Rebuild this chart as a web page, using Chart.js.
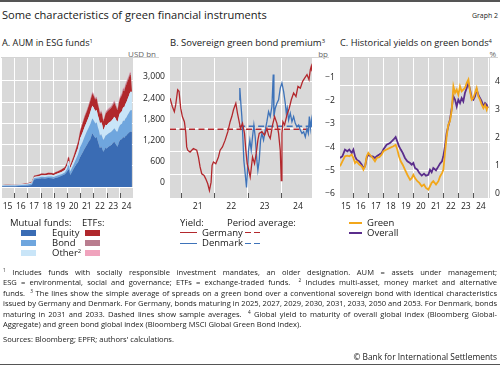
<!DOCTYPE html>
<html><head><meta charset="utf-8">
<script src="https://cdn.jsdelivr.net/npm/chart.js@4.4.1/dist/chart.umd.min.js"></script>
<style>
html,body{margin:0;padding:0;background:#fff}
body{width:500px;height:366px;position:relative;overflow:hidden;font-family:'Open Sans',sans-serif;color:#1a1a1a}
.t{position:absolute;white-space:nowrap;line-height:1.2;transform:translateY(-50%)}
sup{font-size:62%;vertical-align:0;position:relative;top:-0.55em;line-height:0}
.rule{position:absolute;left:0;width:500px;height:1.5px;background:#555}
.thin{position:absolute;height:1px;background:#d4d4d4}
.sw{position:absolute;height:6px;width:15px}
.ln{position:absolute;height:0}
.cv{position:absolute}
.fn{position:absolute;left:3px;width:494px;white-space:nowrap;line-height:1.2;transform:translateY(-50%);font-size:8px}
.lg{font-size:9.5px}
</style></head>
<body>
<div class="rule" style="top:0"></div>
<div class="t" id="title" style="left:2px;top:15px;font-size:12px">Some characteristics of green financial instruments</div>
<div class="t" id="graphno" style="right:2px;top:16px;font-size:9.5px">Graph 2</div>

<div class="t" id="ta" style="left:2px;top:43px;font-size:10px">A. AUM in ESG funds<sup>1</sup></div>
<div class="t" id="tb" style="left:170px;top:43px;font-size:10px">B. Sovereign green bond premium<sup>3</sup></div>
<div class="t" id="tc" style="left:340px;top:43px;font-size:10px">C. Historical yields on green bonds<sup>4</sup></div>

<div class="t" style="right:344px;top:54px;font-size:8px;color:#666">USD bn</div>
<div class="t" style="right:172px;top:54px;font-size:8px;color:#666">bp</div>
<div class="t" style="right:4px;top:54px;font-size:8px;color:#666">%</div>
<div class="thin" style="left:1px;top:57px;width:158px"></div>
<div class="thin" style="left:170px;top:57px;width:159px"></div>
<div class="thin" style="left:340px;top:57px;width:158px"></div>

<canvas class="cv" id="cA" width="165" height="162" style="left:0;top:58px"></canvas>
<canvas class="cv" id="cB" width="170" height="162" style="left:165px;top:58px"></canvas>
<canvas class="cv" id="cC" width="165" height="162" style="left:335px;top:58px"></canvas>

<!-- Legend A -->
<div class="t lg" style="left:10px;top:223px">Mutual funds:</div>
<div class="t lg" style="left:82px;top:223px">ETFs:</div>
<div class="sw" style="left:21px;top:230px;background:#3a6cb4"></div>
<div class="sw" style="left:21px;top:240px;background:#6fa6de"></div>
<div class="sw" style="left:21px;top:250px;background:#c9e5f8"></div>
<div class="sw" style="left:85px;top:230px;background:#b0282c"></div>
<div class="sw" style="left:85px;top:240px;background:#b97d8f"></div>
<div class="sw" style="left:85px;top:250px;background:#f0a3bd"></div>
<div class="t lg" style="left:52px;top:233px">Equity</div>
<div class="t lg" style="left:52px;top:243px">Bond</div>
<div class="t lg" style="left:52px;top:253px">Other<sup>2</sup></div>

<!-- Legend B -->
<div class="t lg" style="left:180px;top:223px">Yield:</div>
<div class="t lg" style="left:227px;top:223px">Period average:</div>
<div class="ln" style="left:180px;top:232px;width:17px;border-top:1.5px solid #b3282d"></div>
<div class="ln" style="left:180px;top:243px;width:17px;border-top:1.5px solid #3e73b9"></div>
<div class="t lg" style="left:202px;top:233px">Germany</div>
<div class="t lg" style="left:202px;top:243px">Denmark</div>
<div class="ln" style="left:245px;top:232px;width:6px;border-top:1.5px solid #b3282d"></div>
<div class="ln" style="left:254px;top:232px;width:6px;border-top:1.5px solid #b3282d"></div>
<div class="ln" style="left:245px;top:243px;width:6px;border-top:1.5px solid #3e73b9"></div>
<div class="ln" style="left:254px;top:243px;width:6px;border-top:1.5px solid #3e73b9"></div>

<!-- Legend C -->
<div class="ln" style="left:349px;top:222px;width:13px;border-top:2px solid #f2a71b"></div>
<div class="ln" style="left:349px;top:232px;width:13px;border-top:2px solid #5a2d8c"></div>
<div class="t lg" style="left:367px;top:223px">Green</div>
<div class="t lg" style="left:367px;top:233px">Overall</div>

<!-- Footnotes -->
<div class="fn" style="top:272.5px"><span><sup>1</sup> Includes funds with socially responsible investment mandates, an older designation. AUM = assets under management;</span></div>
<div class="fn" style="top:283px"><span>ESG = environmental, social and governance; ETFs = exchange-traded funds.&nbsp; <sup>2</sup> Includes multi-asset, money market and alternative</span></div>
<div class="fn" style="top:293.5px"><span>funds.&nbsp; <sup>3</sup> The lines show the simple average of spreads on a green bond over a conventional sovereign bond with identical characteristics</span></div>
<div class="fn" style="top:304px"><span>issued by Germany and Denmark. For Germany, bonds maturing in 2025, 2027, 2029, 2030, 2031, 2033, 2050 and 2053. For Denmark, bonds</span></div>
<div class="fn" style="top:314.5px"><span>maturing in 2031 and 2033. Dashed lines show sample averages.&nbsp; <sup>4</sup> Global yield to maturity of overall global index (Bloomberg Global-</span></div>
<div class="fn" style="top:325px"><span>Aggregate) and green bond global index (Bloomberg MSCI Global Green Bond Index).</span></div>
<div class="t" id="src" style="left:3px;top:340px;font-size:8px">Sources: Bloomberg; EPFR; authors' calculations.</div>
<div class="t" id="copy" style="right:3px;top:357px;font-size:8.5px">© Bank for International Settlements</div>
<div class="rule" style="top:363.5px"></div>

<script>
// ---------------- Panel A: AUM in ESG funds (USD bn) ----------------
const datesA = ['2015-01','2015-04','2015-07','2015-10','2016-01','2016-04','2016-07','2016-10','2017-01','2017-04',
'2017-06','2017-07','2017-10','2018-01','2018-04','2018-07','2018-10','2018-12','2019-01','2019-04',
'2019-07','2019-10','2019-12','2020-01','2020-02','2020-03','2020-04','2020-06','2020-08','2020-10',
'2020-12','2021-02','2021-04','2021-06','2021-08','2021-09','2021-11','2021-12','2022-01','2022-02',
'2022-03','2022-04','2022-05','2022-06','2022-07','2022-08','2022-09','2022-10','2022-11','2022-12',
'2023-02','2023-04','2023-06','2023-07','2023-08','2023-09','2023-10','2023-11','2023-12','2024-02',
'2024-03','2024-04','2024-05','2024-06','2024-07','2024-08','2024-09','2024-10','2024-11'];
const mfEquity = [20,22,22,23,24,27,30,35,45,60, 215,222,234,250,243,255,248,236,255,278,
320,360,430,500,470,340,400,520,620,700, 860,960,1080,1190,1300,1340,1520,1480,1420,1380,
1420,1300,1200,1100,1150,1080,1000,1050,1120,1090, 1150,1180,1250,1280,1230,1180,1140,1250,1330,1360,
1420,1390,1440,1460,1500,1530,1560,1570,1560];
const mfBond = [20,20,21,22,23,25,28,29,35,40, 37,36,38,42,42,45,47,46,45,52,
40,50,80,120,120,100,110,120,160,220, 280,300,340,380,400,430,420,420,420,420,
410,400,400,350,350,340,330,330,330,380, 370,380,370,380,390,390,430,430,420,440,
460,470,490,510,530,550,580,610,610];
const mfOther = [15,16,17,17,17,18,18,20,20,25, 30,32,33,43,45,50,50,48,55,60,
65,70,90,120,130,90,100,120,150,180, 240,270,280,280,300,330,360,360,350,350,
350,330,330,340,340,340,280,300,310,280, 300,300,320,330,330,310,280,300,330,350,
380,390,410,430,450,480,510,520,520];
const etfEquity = [4,5,5,7,9,10,12,13,17,22, 37,39,43,47,47,51,51,51,56,60,
68,77,94,111,102,76,94,111,136,170, 204,255,281,289,323,323,340,340,332,323,
332,315,298,272,289,281,247,264,306,366, 357,366,391,400,374,357,323,383,408,451,
476,459,493,502,510,502,510,476,51];
const etfBond = [1,1,1,1,1,1,1,2,2,2, 4,4,5,5,5,6,6,6,6,7,
8,9,11,13,12,9,11,13,16,20, 24,30,33,34,38,38,40,40,39,38,
39,37,35,32,34,33,29,31,36,43, 42,43,46,47,44,42,38,45,48,53,
56,54,58,59,60,59,60,56,6];
const etfOther = [0,0,0,0,1,1,1,1,1,1, 2,2,2,3,3,3,3,3,3,3,
4,4,5,6,6,5,5,6,8,10, 12,15,16,17,19,19,20,20,19,19,
19,18,17,16,17,16,14,15,18,21, 21,21,23,23,22,21,19,22,24,26,
28,27,29,29,30,29,30,28,3];
const ticksA = [0,600,1200,1800,2400,3000];
const yearTicksA = [2015,2016,2017,2018,2019,2020,2021,2022,2023,2024,2025];
const yearLabelsA = [2015,2016,2017,2018,2019,2020,2021,2022,2023,2024];
const tickMarksA = [2016,2017,2018,2019,2020,2021,2022,2023,2024];

// ---------------- Panel B: sovereign green bond premium (bp) ----------------
const datesGermany = [2020.67,2020.74,2020.80,2020.84,2020.90,2020.94,2020.99,
2021.04,2021.10,2021.14,2021.17,2021.20,2021.27,2021.37,2021.47,2021.52,2021.57,2021.62,2021.69,2021.74,2021.80,2021.85,2021.90,2021.93,2021.97,
2022.04,2022.12,2022.17,2022.24,2022.32,2022.40,2022.47,2022.52,2022.57,2022.64,2022.69,2022.74,2022.78,2022.84,2022.90,2022.94,2022.98,
2023.02,2023.07,2023.10,2023.14,2023.20,2023.25,2023.30,2023.34,2023.42,2023.50,2023.57,2023.62,2023.67,2023.74,2023.80,2023.87,2023.92,2023.97,
2024.00,2024.02,2024.05,2024.10,2024.17,2024.24,2024.30,2024.37,2024.44,2024.50,2024.57,2024.64,2024.70,2024.77,2024.83,2024.87,2024.90,2024.92];
const germany = [-1.72,-2.08,-2.30,-2.01,-1.36,-1.43,-2.15,
-2.51,-2.73,-3.16,-3.81,-3.95,-4.03,-3.88,-3.95,-4.24,-4.67,-4.96,-5.03,-5.18,-5.39,-5.68,-5.32,-4.60,-4.46,
-4.53,-4.24,-3.95,-3.81,-3.52,-3.16,-2.73,-2.51,-2.22,-1.94,-2.37,-2.73,-3.02,-2.80,-3.23,-3.95,-4.53,
-4.75,-5.10,-4.75,-4.24,-4.53,-4.10,-3.52,-3.23,-3.16,-3.31,-3.02,-3.31,-3.45,-2.87,-2.51,-2.80,-3.23,-3.95,
-5.25,-3.23,-2.73,-2.87,-2.44,-2.15,-1.79,-1.50,-1.65,-1.22,-1.29,-1.00,-0.86,-0.71,-0.93,-0.50,-0.35,-0.57];
const datesDenmark = [2022.74,2022.76,2022.79,2022.82,2022.85,2022.88,2022.92,2022.96,2022.99,
2023.02,2023.06,2023.10,2023.14,2023.18,2023.22,2023.27,2023.30,2023.34,2023.38,2023.42,2023.47,2023.52,2023.57,2023.62,2023.67,2023.72,2023.76,2023.78,2023.82,2023.87,2023.92,2023.97,
2024.02,2024.07,2024.12,2024.15,2024.18,2024.22,2024.27,2024.32,2024.37,2024.42,2024.47,2024.52,2024.57,2024.62,2024.67,2024.72,2024.77,2024.81,2024.84,2024.87,2024.90,2024.92];
const denmark = [-1.79,-1.29,-1.94,-2.51,-3.38,-4.39,-4.96,-5.55,-4.82,
-3.95,-3.52,-3.95,-3.38,-2.87,-3.38,-4.39,-4.82,-4.39,-3.52,-3.23,-3.52,-3.09,-2.73,-2.30,-2.51,-2.08,-0.71,-2.51,-2.15,-1.94,-1.79,-1.29,
-1.07,-1.43,-1.94,-2.37,-2.15,-2.66,-2.37,-2.73,-2.51,-2.80,-2.95,-2.87,-3.09,-3.23,-3.16,-3.38,-3.02,-3.23,-2.51,-3.02,-2.66,-2.95];
const germanyAverage = -3.05;
const denmarkAverage = -2.92;
const ticksB = [-6,-5,-4,-3,-2,-1];
const yearTicksB = [2021,2022,2023,2024];

// ---------------- Panel C: historical yields on green bonds (%) ----------------
const datesC = [2015.11,2015.27,2015.44,2015.60,2015.73,2015.89,
2016.00,2016.11,2016.22,2016.40,2016.56,2016.67,2016.78,2016.89,
2017.00,2017.16,2017.29,2017.44,2017.56,2017.73,2017.89,
2018.00,2018.22,2018.44,2018.67,2018.82,2018.93,
2019.04,2019.16,2019.29,2019.44,2019.60,2019.78,2019.89,
2020.00,2020.11,2020.27,2020.40,2020.56,2020.71,2020.84,
2021.00,2021.11,2021.22,2021.33,2021.51,2021.67,2021.78,2021.91,
2022.00,2022.11,2022.22,2022.33,2022.44,2022.56,2022.67,2022.78,2022.89,
2023.00,2023.11,2023.22,2023.33,2023.44,2023.56,2023.67,2023.78,2023.89,
2024.00,2024.11,2024.22,2024.33,2024.44,2024.56,2024.67,2024.78,2024.89,2024.96];
const greenYield = [1.13,1.31,1.49,1.51,1.49,1.55,
1.43,1.25,1.31,1.19,1.13,1.01,1.13,1.49,
1.61,1.51,1.43,1.31,1.43,1.46,1.55,
1.67,1.73,1.79,1.85,1.90,1.73,
1.49,1.31,1.19,1.01,0.83,0.65,0.71,
0.83,0.71,0.60,0.54,0.42,0.48,0.36,
0.30,0.42,0.54,0.60,0.48,0.60,0.77,0.89,
1.01,1.61,2.20,2.62,2.74,3.15,3.99,3.75,3.87,
3.69,3.99,3.81,3.87,3.93,4.11,4.23,3.81,3.51,
3.57,3.75,3.93,3.63,3.51,3.33,3.21,3.33,3.15,3.27];
const overallYield = [1.43,1.49,1.73,1.67,1.73,1.61,
1.73,1.49,1.37,1.31,1.19,1.07,1.13,1.43,
1.55,1.49,1.49,1.43,1.49,1.55,1.61,
1.73,1.90,1.96,2.08,2.18,2.02,
1.85,1.73,1.61,1.43,1.31,1.25,1.19,
1.25,1.07,1.01,0.89,0.80,0.87,0.80,
0.83,1.01,0.92,1.07,0.99,1.13,1.23,1.31,
1.49,1.85,2.32,2.56,2.80,3.21,3.63,3.51,3.27,
3.51,3.39,3.57,3.45,3.75,3.93,4.11,3.87,3.57,
3.51,3.63,3.87,3.69,3.57,3.45,3.27,3.39,3.33,3.21];
const ticksC = [0,1,2,3,4];
const yearTicksC = [2015,2016,2017,2018,2019,2020,2021,2022,2023,2024,2025];
const yearLabelsC = [2015,2016,2017,2018,2019,2020,2021,2022,2023,2024];
const tickMarksC = [2016,2017,2018,2019,2020,2021,2022,2023,2024];

// ---------------- helpers ----------------
const FONT = "'Open Sans', sans-serif";
Chart.defaults.font.family = FONT;
Chart.defaults.font.size = 8.6;
Chart.defaults.color = '#222';

function ym(s){ const p = s.split('-').map(Number); return p[0] + p[1]/12; }
function pts(xs, ys){ return xs.map((x,i)=>({x:x, y:ys[i]})); }
function zeroPad(s){ s.paddingTop=0; s.paddingBottom=0; s.paddingLeft=0; s.paddingRight=0; }

const bgPlugin = { id:'bg', beforeDraw(c){ const a=c.chartArea, ctx=c.ctx; ctx.save(); ctx.fillStyle='#d9d9d9'; ctx.fillRect(a.left,a.top,a.right-a.left,a.bottom-a.top); ctx.restore(); } };
const tickPlugin = { id:'tickmarks', afterDatasetsDraw(c, args, opts){
  const s=c.scales.x, a=c.chartArea, ctx=c.ctx; ctx.save(); ctx.strokeStyle='#555'; ctx.lineWidth=1;
  (opts.marks||[]).forEach(v=>{ const px=Math.round(s.getPixelForValue(v))+0.5; ctx.beginPath(); ctx.moveTo(px,a.bottom-5); ctx.lineTo(px,a.bottom); ctx.stroke(); });
  ctx.restore(); } };

function makeOptions(cfg){
  return {
    responsive:false, animation:false, devicePixelRatio:1,
    layout:{padding:{left:cfg.padL, right:0, top:0, bottom:0}},
    plugins:{legend:{display:false}, tooltip:{enabled:false}, tickmarks:{marks:cfg.marks}},
    elements:{point:{radius:0}, line:{tension:0}},
    scales:{
      x:{type:'linear', min:cfg.xmin, max:cfg.xmax,
        afterBuildTicks:s=>{ s.ticks = cfg.xticks.map(v=>({value:v})); },
        afterFit:s=>{ s.height=22; zeroPad(s); },
        grid:{color:'#ffffff', lineWidth:1, drawTicks:false}, border:{display:false},
        ticks:{autoSkip:false, maxRotation:0, minRotation:0, padding:3, labelOffset:cfg.labOff, color:'#222',
          callback:(v)=> cfg.xlabels.includes(v) ? String(v).slice(2) : ''}},
      y:{position:'right', min:cfg.ymin, max:cfg.ymax, stacked:!!cfg.stacked,
        afterBuildTicks:s=>{ s.ticks = cfg.yticks.map(v=>({value:v})); },
        afterFit:s=>{ s.width=cfg.yW; zeroPad(s); },
        grid:{color:'#ffffff', lineWidth:1, drawTicks:false}, border:{display:false},
        ticks:{crossAlign:'far', padding:cfg.yPad, labelOffset:-4, color:'#222', callback:cfg.fmt}}
    }
  };
}

// place a chart so that its plot area lands on the given page box
function place(id, makeCfg, box){
  const cv = document.getElementById(id);
  let ch = new Chart(cv, makeCfg());
  for (let k=0;k<2;k++){
    const a = ch.chartArea;
    const dw = Math.round((box.r-box.l) - (a.right-a.left));
    const dh = Math.round((box.b-box.t) - (a.bottom-a.top));
    if (dw===0 && dh===0) break;
    const w = cv.width + dw, h = cv.height + dh;
    ch.destroy();
    cv.width = w; cv.height = h;
    ch = new Chart(cv, makeCfg());
  }
  const a = ch.chartArea;
  cv.style.left = (box.l - a.left) + 'px';
  cv.style.top = (box.t - a.top) + 'px';
  return ch;
}

// ---------------- Chart A ----------------
const xA = datesA.map(ym);
const areaSpec = [
  [mfEquity,'#3a6cb4'],[mfBond,'#6fa6de'],[mfOther,'#c9e5f8'],
  [etfEquity,'#b0282c'],[etfBond,'#b97d8f'],[etfOther,'#f0a3bd']];
place('cA', ()=>({
  type:'line',
  data:{datasets: areaSpec.map((s,i)=>({data:pts(xA,s[0]), backgroundColor:s[1], borderColor:s[1], borderWidth:0, fill: i===0?'origin':'-1', pointRadius:0}))},
  options: makeOptions({padL:1, xmin:2015, xmax:2025, xticks:yearTicksA, xlabels:yearLabelsA, labOff:6.6,
    ymin:-310, ymax:3650, yticks:ticksA, yW:32, yPad:3, stacked:true, marks:tickMarksA,
    fmt:v=>Number(v).toLocaleString('en-US')}),
  plugins:[bgPlugin, tickPlugin]
}), {l:1, t:58, r:133, b:198});

// ---------------- Chart B ----------------
const bStart = datesGermany[0], bEnd = datesGermany[datesGermany.length-1];
place('cB', ()=>({
  type:'line',
  data:{datasets:[
    {data:pts(datesGermany,germany), borderColor:'#b3282d', borderWidth:1.3, fill:false},
    {data:pts(datesDenmark,denmark), borderColor:'#3e73b9', borderWidth:1.3, fill:false},
    {data:[{x:bStart,y:germanyAverage},{x:bEnd,y:germanyAverage}], borderColor:'#b3282d', borderWidth:1.5, borderDash:[6,3.5], fill:false},
    {data:[{x:datesDenmark[0],y:denmarkAverage},{x:bEnd,y:denmarkAverage}], borderColor:'#3e73b9', borderWidth:1.5, borderDash:[6,3.5], fill:false}
  ]},
  options: makeOptions({padL:5, xmin:2020.67, xmax:2024.92, xticks:yearTicksB, xlabels:yearTicksB, labOff:16.7,
    ymin:-6, ymax:0, yticks:ticksB, yW:23, yPad:5, marks:yearTicksB,
    fmt:v=> v<0 ? '\u2212'+Math.abs(v) : String(v)}),
  plugins:[bgPlugin, tickPlugin]
}), {l:170, t:58, r:312, b:198});

// ---------------- Chart C ----------------
place('cC', ()=>({
  type:'line',
  data:{datasets:[
    {data:pts(datesC,greenYield), borderColor:'#f2a71b', borderWidth:1.8, fill:false},
    {data:pts(datesC,overallYield), borderColor:'#5a2d8c', borderWidth:1.8, fill:false}
  ]},
  options: makeOptions({padL:5, xmin:2015.11, xmax:2025.11, xticks:yearTicksC, xlabels:yearLabelsC, labOff:7.5,
    ymin:0, ymax:5, yticks:ticksC, yW:10, yPad:1.5, marks:tickMarksC,
    fmt:v=>String(v)}),
  plugins:[bgPlugin, tickPlugin]
}), {l:340, t:58, r:490, b:198});

// ---------------- text fitting ----------------
function fit(id, target){ const el=document.getElementById(id); const fs=parseFloat(getComputedStyle(el).fontSize); const w=el.getBoundingClientRect().width; if(w>0) el.style.fontSize=(fs*target/w).toFixed(2)+'px'; }
fit('title',265); fit('graphno',26); fit('ta',91); fit('tb',155); fit('tc',152);
fit('src',171); fit('copy',144);
(function(){
  const lines=[...document.querySelectorAll('.fn')];
  const spans=lines.map(l=>l.querySelector('span'));
  let f=8.2;
  spans.slice(0,5).forEach(s=>{ const w=s.getBoundingClientRect().width; f=Math.min(f, 8*494/w); });
  lines.forEach(l=>l.style.fontSize=f.toFixed(3)+'px');
  spans.forEach((s,i)=>{ if(i===5) return; const w=s.getBoundingClientRect().width; const n=(s.textContent.match(/[ \u00a0]/g)||[]).length; if(n>0) s.style.wordSpacing=((494-w)/n).toFixed(3)+'px'; });
})();
</script>
</body></html>
